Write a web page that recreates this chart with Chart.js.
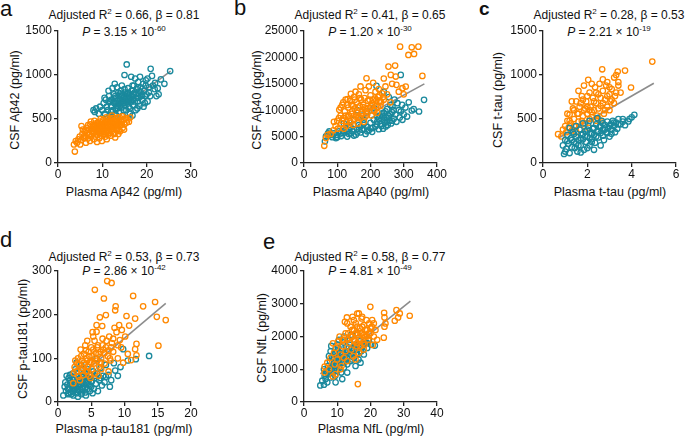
<!DOCTYPE html>
<html>
<head>
<meta charset="utf-8">
<script src="https://cdn.jsdelivr.net/npm/chart.js@4.4.0/dist/chart.umd.min.js"></script>
<style>
body{margin:0;background:#fff;width:685px;height:436px;position:relative;overflow:hidden;font-family:"Liberation Sans",Arial,Helvetica,sans-serif;color:#111;}
.t{position:absolute;white-space:nowrap;font-size:12px;line-height:1;transform:translate(-50%,-50%);}
.ax{font-size:12.5px;}
.yt{transform:translate(-50%,-50%) rotate(-90deg);}
.lt{position:absolute;font-size:22px;line-height:1;}
sup{font-size:8px;vertical-align:0;position:relative;top:-5px;}
canvas{position:absolute;}
</style>
</head>
<body>
<div class="lt" style="left:0px;top:-2px">a</div>
<div class="lt" style="left:234px;top:-3px">b</div>
<div class="lt" style="left:479px;top:-1px;font-weight:bold;font-size:19px">c</div>
<div class="lt" style="left:0px;top:229px">d</div>
<div class="lt" style="left:263px;top:231px">e</div>

<div class="t" style="left:124px;top:15px">Adjusted R<sup>2</sup> = 0.66, β = 0.81</div>
<div class="t" style="left:124px;top:32px"><i>P</i> = 3.15 × 10<sup>-60</sup></div>
<div class="t" style="left:370px;top:15px">Adjusted R<sup>2</sup> = 0.41, β = 0.65</div>
<div class="t" style="left:370px;top:32px"><i>P</i> = 1.20 × 10<sup>-30</sup></div>
<div class="t" style="left:609px;top:15px">Adjusted R<sup>2</sup> = 0.28, β = 0.53</div>
<div class="t" style="left:609px;top:32px"><i>P</i> = 2.21 × 10<sup>-19</sup></div>
<div class="t" style="left:124px;top:257px">Adjusted R<sup>2</sup> = 0.53, β = 0.73</div>
<div class="t" style="left:124px;top:271px"><i>P</i> = 2.86 × 10<sup>-42</sup></div>
<div class="t" style="left:370px;top:257px">Adjusted R<sup>2</sup> = 0.58, β = 0.77</div>
<div class="t" style="left:370px;top:271px"><i>P</i> = 4.81 × 10<sup>-49</sup></div>

<div class="t ax" style="left:124px;top:192px">Plasma Aβ42 (pg/ml)</div>
<div class="t ax" style="left:371px;top:192px">Plasma Aβ40 (pg/ml)</div>
<div class="t ax" style="left:610px;top:192px">Plasma t-tau (pg/ml)</div>
<div class="t ax" style="left:124px;top:429px">Plasma p-tau181 (pg/ml)</div>
<div class="t ax" style="left:371px;top:429px">Plasma NfL (pg/ml)</div>
<div class="t ax yt" style="left:15px;top:100px">CSF Aβ42 (pg/ml)</div>
<div class="t ax yt" style="left:257px;top:100px">CSF Aβ40 (pg/ml)</div>
<div class="t ax yt" style="left:498px;top:100px">CSF t-tau (pg/ml)</div>
<div class="t ax yt" style="left:23px;top:339px">CSF p-tau181 (pg/ml)</div>
<div class="t ax yt" style="left:262px;top:338px">CSF NfL (pg/ml)</div>

<script>
const FONT = '"Liberation Sans", Arial, Helvetica, sans-serif';
const TEAL = '#1a899d';
const ORANGE = '#ff8800';
const FITCOL = '#8c8c8c';

// ---- panel a : Abeta42 ----
const aXTicks = [0, 10, 20, 30];
const aYTicks = [0, 500, 1000, 1500];
const aTeal = [[8.0,600],[8.3,580],[8.6,620],[9.2,560],[9.5,640],[10.0,600],[10.3,680],[10.6,560],[10.8,720],[11.0,640],[11.2,600],[11.5,760],[11.6,690],[11.8,540],[12.0,650],[12.1,720],[12.3,850],[12.4,600],[12.6,780],[12.7,680],[12.9,560],[13.0,740],[13.1,620],[13.3,860],[13.4,700],[13.5,650],[13.6,800],[13.7,760],[13.8,580],[14.0,720],[14.1,680],[14.2,820],[14.3,630],[14.5,770],[14.6,540],[14.7,700],[14.8,750],[15.0,1000],[15.0,660],[15.1,800],[15.2,720],[15.4,600],[15.5,1120],[15.5,780],[15.6,690],[15.8,850],[15.9,740],[16.0,640],[16.1,790],[16.2,560],[16.4,700],[16.5,980],[16.6,820],[16.7,760],[16.9,660],[17.0,720],[17.1,880],[17.3,800],[17.4,960],[17.5,600],[17.6,740],[17.8,840],[18.0,700],[18.1,920],[18.2,780],[18.4,650],[18.6,860],[18.8,760],[19.0,720],[19.2,900],[19.4,820],[19.6,680],[19.8,880],[20.0,780],[20.2,960],[20.2,700],[20.5,860],[20.9,1070],[21.2,990],[21.4,880],[21.9,910],[22.2,760],[22.7,780],[23.2,950],[24.0,900],[25.3,1045],[16.8,540],[17.9,620],[19.3,640],[13.2,540],[11.4,820],[10.5,740],[12.8,900],[14.4,880],[18.5,980],
    [12.5,700],[12.9,760],[13.2,680],[13.6,720],[13.9,640],[14.2,760],[14.4,700],[14.8,680],[15.2,760],[15.5,700],[15.8,800],[16.0,720],[16.3,760],[16.6,700],[17.0,780],[17.3,700],[17.7,790],[18.2,740],[18.6,810],[19.0,780],[19.6,760],[20.5,800],[13.4,620],[14.8,600],[16.2,620],[12.0,580],[15.0,840],[16.8,880],[14.0,790],[11.8,700],[18.0,860],[19.8,940],[21.8,840],[22.5,850],[20.8,760]];
const aOrange = [[3.8,130],[3.6,210],[4.0,250],[4.3,230],[4.6,270],[4.9,300],[5.2,260],[5.3,420],[5.5,330],[5.8,290],[6.0,360],[6.2,310],[6.5,400],[6.6,340],[6.8,280],[7.0,380],[7.1,330],[7.3,440],[7.5,300],[7.6,360],[7.8,410],[8.0,340],[8.1,270],[8.3,390],[8.4,300],[8.6,450],[8.7,360],[8.9,320],[9.0,420],[9.1,380],[9.3,280],[9.4,470],[9.5,340],[9.7,400],[9.8,310],[10.0,440],[10.0,360],[10.2,490],[10.3,390],[10.4,330],[10.6,420],[10.7,300],[10.8,460],[11.0,370],[11.1,400],[11.2,500],[11.4,340],[11.5,440],[11.6,390],[11.8,470],[11.9,310],[12.0,420],[12.1,360],[12.3,510],[12.4,450],[12.5,390],[12.7,480],[12.8,340],[13.0,430],[13.1,500],[13.3,400],[13.5,460],[13.7,370],[13.9,520],[14.0,430],[14.2,480],[14.4,465],[14.6,400],[14.8,500],[15.0,440],[15.3,510],[15.7,495],[16.0,470],[12.9,290],[11.0,270],[9.9,250],[8.8,240],[7.2,250],[6.3,230],[5.0,210],[13.6,330],[14.9,380],[10.9,520],[9.6,500],[12.2,540],[8.2,480],[7.9,430],
    [7.4,470],[7.7,390],[8.2,430],[8.5,350],[8.8,410],[9.0,460],[9.2,360],[9.4,430],[9.6,380],[9.9,420],[10.1,470],[10.2,350],[10.5,450],[10.5,380],[10.9,410],[11.1,480],[11.3,430],[11.5,360],[11.7,410],[11.9,500],[12.2,470],[12.4,410],[12.6,440],[12.9,460],[13.2,470],[13.4,440],[13.8,480],[10.8,350],[9.3,390],[8.6,380],[6.8,430],[6.4,370],[7.0,320],[6.0,280],[5.6,380],[11.3,320],[12.6,330],[13.3,370],[14.3,440],[10.0,400],[9.0,350],[11.6,450],[12.0,380],[13.5,520],[14.5,530],[15.5,460],[16.3,520],[14.0,360]];
const aFit = [[3.8,240],[25.4,1045]];

// ---- panel b : Abeta40 ----
const bXTicks = [0, 100, 200, 300, 400];
const bYTicks = [0, 5000, 10000, 15000, 20000, 25000];
const bTeal = [[63,4100],[66,5030],[72,5600],[76,5975],[85,4900],[96,4715],[100,5300],[105,6000],[112,5100],[118,5700],[125,6300],[130,5000],[135,5500],[140,6800],[145,6000],[150,5200],[156,5345],[160,6500],[165,7200],[170,5800],[175,6300],[180,7500],[185,5500],[190,6800],[195,6200],[200,7600],[205,5900],[206,6605],[210,8200],[215,6900],[220,7300],[225,6400],[228,9000],[230,8000],[233,7000],[236,8810],[238,6500],[240,9500],[243,7600],[246,6920],[248,8600],[250,10200],[252,7200],[255,9000],[258,8000],[260,11000],[262,7500],[265,9600],[266,10700],[270,8400],[272,12000],[275,9200],[278,7800],[281,11330],[285,10000],[288,8600],[291,16685],[291,9755],[295,11000],[296,8180],[300,9200],[305,10500],[310,8800],[315,11500],[324,9940],[330,10200],[346,9755],[361,11960],[175,9000],[150,8200],[190,9800],[210,10500],[120,7500],[240,13500],[255,12500],[218,14600],[160,10000],[180,8200],[135,7200],[220,8800],
    [220,7800],[225,8400],[230,7400],[235,9400],[240,8200],[245,9800],[250,7800],[255,8500],[260,9200],[265,8000],[270,10000],[200,6600],[190,6000],[180,6400],[170,6900],[160,5800],[150,6400],[140,5600],[130,6000],[120,6000],[110,5600],[90,5600],[80,5300],[100,4900]];
const bOrange = [[61,3260],[66,4715],[71,5345],[80,5500],[88,6200],[95,7000],[100,8000],[102,6500],[106,10070],[110,9000],[112,7500],[115,11000],[118,8500],[120,6500],[123,9800],[125,12000],[128,7800],[131,12090],[133,10500],[135,9000],[138,8000],[141,13094],[143,11000],[145,9800],[148,7200],[150,12500],[152,10300],[155,8800],[158,11500],[160,9500],[162,7500],[165,13000],[168,10800],[170,8500],[172,12000],[175,9800],[178,11000],[180,7800],[183,10300],[185,13800],[188,16055],[190,9200],[192,11800],[195,14500],[198,10500],[200,12800],[203,9000],[205,11300],[208,15200],[210,10000],[213,12200],[215,13500],[218,11000],[220,9500],[223,12500],[225,14000],[228,11800],[230,10800],[235,13200],[240,12000],[245,14500],[250,13000],[254,18260],[261,16685],[265,15000],[274,18450],[276,16370],[278,14800],[285,13500],[289,22040],[296,14165],[306,14480],[314,20465],[324,21910],[331,20650],[344,22040],[356,16500],[300,13000],[260,11500],[130,11000],[155,13500],[170,14500],[90,7800],[240,16000],
    [110,10500],[118,11500],[125,9000],[132,8800],[138,11800],[142,9300],[148,10800],[153,12000],[158,9000],[163,10500],[167,12300],[172,9300],[177,10600],[182,12300],[187,9800],[192,10400],[197,12000],[202,10800],[207,12000],[212,9800],[217,11800],[222,10600],[227,12800],[232,11500],[238,12500],[105,8500],[115,8000],[127,7000],[140,7600],[150,8400],[165,8800],[185,8800]];
const bFit = [[62,4700],[362,14985]];

// ---- panel c : t-tau ----
const cXTicks = [0, 2, 4, 6];
const cYTicks = [0, 500, 1000, 1500];
const cTeal = [[0.9,200],[0.95,102],[1.0,260],[1.05,160],[1.1,320],[1.15,220],[1.2,113],[1.25,280],[1.3,180],[1.35,350],[1.4,240],[1.43,170],[1.5,300],[1.55,130],[1.6,260],[1.65,380],[1.7,200],[1.75,320],[1.8,270],[1.85,150],[1.9,360],[1.95,240],[2.0,300],[2.05,420],[2.1,200],[2.15,340],[2.2,270],[2.25,390],[2.3,320],[2.35,230],[2.4,440],[2.45,360],[2.5,290],[2.55,410],[2.6,340],[2.65,480],[2.7,380],[2.75,260],[2.8,430],[2.85,350],[2.9,470],[2.95,400],[3.0,300],[3.05,440],[3.09,332],[3.15,480],[3.2,420],[3.3,460],[3.35,390],[3.4,500],[3.5,440],[3.6,470],[3.7,430],[3.85,472],[3.9,500],[4.12,548],[1.2,400],[1.5,420],[1.8,450],[2.0,170],[2.3,150],[2.6,200],[1.0,130],[2.1,480],[2.45,510],[1.7,120],[3.25,350],
    [1.3,260],[1.4,330],[1.6,200],[1.7,280],[1.9,300],[2.0,380],[2.1,280],[2.2,330],[2.3,400],[2.4,300],[2.5,360],[2.6,420],[2.7,310],[2.8,380],[2.9,340],[3.0,420],[3.1,380],[3.2,460],[3.4,440],[1.1,250],[1.5,220],[1.8,330],[2.2,240],[2.7,450],[3.6,500],[4.0,520]];
const cOrange = [[0.68,328],[0.83,302],[0.9,380],[1.0,420],[1.05,350],[1.1,480],[1.15,400],[1.2,550],[1.25,450],[1.3,370],[1.35,620],[1.4,500],[1.45,420],[1.5,700],[1.55,560],[1.6,470],[1.65,640],[1.7,380],[1.75,760],[1.8,530],[1.85,600],[1.9,450],[1.95,700],[2.0,560],[2.04,945],[2.05,400],[2.1,800],[2.15,640],[2.2,520],[2.25,740],[2.3,600],[2.35,860],[2.4,680],[2.45,540],[2.5,780],[2.55,900],[2.6,650],[2.67,1065],[2.7,820],[2.75,560],[2.8,720],[2.85,880],[2.9,640],[3.0,780],[3.05,700],[3.1,840],[3.21,971],[3.25,760],[3.37,1039],[3.4,880],[3.5,800],[3.7,1050],[3.97,858],[4.93,1152],[1.6,820],[1.85,880],[2.2,900],[1.3,700],[2.4,480],[2.0,640],[1.5,350],[2.6,480],[1.1,560],[3.2,680],[2.9,920],[1.75,480],
    [1.2,480],[1.4,600],[1.6,560],[1.7,680],[1.9,620],[2.0,760],[2.1,600],[2.3,700],[2.4,800],[2.5,620],[2.6,740],[2.7,680],[2.8,600],[2.9,760],[3.0,860],[3.1,720],[3.3,800],[3.4,920],[1.8,720],[2.2,580],[1.4,420],[2.5,500],[2.1,500],[3.0,600],[2.7,950],[3.3,1000]];
const cFit = [[0.7,284],[5.0,907]];

// ---- panel d : p-tau181 ----
const dXTicks = [0, 5, 10, 15, 20];
const dYTicks = [0, 100, 200, 300];
const dTeal = [[0.8,15],[1.2,25],[1.4,40],[1.5,18],[1.6,55],[1.7,30],[1.8,62],[1.9,22],[2.0,45],[2.1,35],[2.2,65],[2.3,15],[2.4,50],[2.5,28],[2.6,40],[2.7,60],[2.8,20],[2.9,48],[3.0,35],[3.1,70],[3.2,25],[3.3,55],[3.4,42],[3.5,18],[3.6,62],[3.7,30],[3.8,50],[3.9,38],[4.0,68],[4.1,22],[4.2,45],[4.3,58],[4.4,30],[4.5,75],[4.6,40],[4.7,52],[4.8,25],[4.9,62],[5.0,35],[5.1,48],[5.3,70],[5.4,30],[5.5,55],[5.7,42],[5.9,65],[6.0,25],[6.2,50],[6.4,78],[6.6,38],[6.8,60],[7.0,45],[7.2,85],[7.6,62],[8.0,50],[8.4,89],[8.6,72],[9.0,60],[9.4,80],[9.8,121],[10.5,95],[11.7,98],[13.7,105.5],[2.6,75],[3.5,85],[1.3,60],[2.0,18],[3.0,12],[4.2,15],[5.2,20],[6.5,90],[7.8,35],[1.0,35],[2.8,90],[5.8,100],
    [1.1,45],[1.6,20],[1.9,40],[2.2,25],[2.5,55],[2.7,35],[3.0,50],[3.2,40],[3.4,28],[3.7,45],[4.0,32],[4.3,42],[4.6,55],[5.0,45],[1.5,30],[2.4,32],[3.6,22],[4.8,38],[5.6,60],[6.4,55],[7.2,58],[3.9,58],[2.9,28],[1.8,48]];
const dOrange = [[2.3,43],[2.37,66],[2.5,80],[2.6,95],[2.8,70],[3.0,100],[3.1,58],[3.2,85],[3.4,120],[3.5,72],[3.6,95],[3.8,62],[3.9,110],[4.0,85],[4.1,130],[4.2,70],[4.3,100],[4.5,80],[4.6,115],[4.7,60],[4.8,92],[5.0,125],[5.1,75],[5.2,105],[5.4,88],[5.5,140],[5.54,257],[5.6,65],[5.7,112],[5.8,176],[5.8,161],[5.9,95],[6.0,130],[6.2,80],[6.3,194],[6.4,115],[6.5,100],[6.65,174],[6.7,145],[6.9,237],[7.0,88],[7.2,199],[7.2,125],[7.4,277],[7.5,105],[7.7,150],[7.9,95],[8.06,272.6],[8.1,135],[8.3,115],[8.6,210],[8.67,219],[8.8,160],[9.0,100],[9.2,176],[9.3,142],[9.5,125],[9.8,90],[10.1,150],[10.3,197],[10.5,110],[11.0,96],[11.3,243],[11.6,191],[11.6,121],[11.8,133],[11.8,107],[12.8,219],[14.6,229],[14.86,195],[15.1,129],[16.2,187.6],[3.3,50],[4.4,140],[6.1,60],[7.6,70],[8.5,170],[5.3,150],[9.6,165],[10.7,175],[4.9,55],[6.8,120],
    [3.5,105],[3.9,90],[4.2,118],[4.4,95],[4.7,105],[5.0,90],[5.3,120],[5.6,100],[5.9,125],[6.1,110],[6.4,90],[6.7,130],[7.0,112],[7.3,140],[7.6,118],[8.0,125],[8.3,145],[4.5,70],[3.7,78],[6.5,75],[7.8,100],[2.9,88],[9.0,130],[5.2,160]];
const dFit = [[0.8,28],[16.2,226]];

// ---- panel e : NfL ----
const eXTicks = [0, 10, 20, 30, 40];
const eYTicks = [0, 1000, 2000, 3000, 4000];
const eTeal = [[4.9,506],[5.5,650],[6.0,527],[6.2,800],[6.5,700],[6.8,950],[7.0,600],[7.2,1100],[7.5,850],[7.8,1250],[8.0,750],[8.2,1711],[8.3,1000],[8.5,1350],[8.8,900],[9.0,1200],[9.2,1500],[9.4,800],[9.6,1100],[9.8,1400],[10.0,950],[10.2,1650],[10.4,1250],[10.6,1050],[10.8,1500],[11.0,1350],[11.2,900],[11.5,1600],[11.7,1200],[11.9,1813],[12.0,1050],[12.3,1450],[12.5,1300],[12.8,1700],[13.0,1150],[13.3,1550],[13.5,1400],[13.8,1900],[14.0,1250],[14.3,1650],[14.6,1500],[15.0,1350],[15.3,1750],[15.6,1450],[16.0,1600],[16.4,1300],[16.8,1850],[17.2,1550],[17.6,1700],[18.0,1450],[18.5,1800],[19.0,1650],[19.5,1900],[20.2,1750],[21.3,1722],[14.2,2050],[12.0,2000],[10.5,1900],[7.5,1400],[6.0,1000],[9.5,600],[11.5,700],[13.0,900],[15.5,1100],[17.0,1200],[8.0,1550],[10.0,1750],[16.0,2100],
    [8.5,1100],[9.0,1300],[9.5,1500],[10.0,1150],[10.5,1400],[11.0,1250],[11.5,1450],[12.0,1200],[12.5,1550],[13.0,1350],[13.5,1650],[14.0,1450],[14.5,1300],[15.0,1600],[15.5,1700],[16.0,1450],[17.0,1650],[18.0,1750],[19.0,1800],[7.0,900],[8.0,1050],[9.0,1000],[6.5,850],[10.0,1550]];
const eOrange = [[6.2,1084],[6.2,901],[7.0,1200],[7.5,1000],[8.0,1350],[8.7,780],[8.7,1792],[9.0,1500],[9.3,1150],[9.6,1650],[10.0,1300],[10.3,1850],[10.7,1995],[11.0,1450],[11.3,1100],[11.6,1700],[12.0,1900],[12.3,2450],[12.5,1550],[12.9,2582],[13.0,1250],[13.3,2100],[13.6,1800],[14.0,2300],[14.2,1600],[14.5,2000],[14.8,1400],[15.0,2200],[15.3,1850],[15.6,2400],[15.9,1700],[16.2,547],[16.2,2050],[16.5,2704],[16.5,1500],[16.8,2250],[17.0,1900],[17.3,2550],[17.5,2100],[17.8,1800],[18.0,2350],[18.2,1742],[18.5,2000],[18.8,2500],[19.0,2200],[19.3,1900],[19.6,2400],[19.95,2906],[20.0,2100],[20.4,2300],[20.7,1742],[21.0,2000],[21.5,2200],[22.0,1900],[24.0,1965],[24.1,2724],[24.2,2582],[24.2,2299],[24.5,2400],[27.3,2481],[27.8,2805],[28.3,2582],[28.8,2704],[31.8,2633],[13.0,2400],[14.6,2600],[16.0,2700],[11.0,1000],[9.5,850],[15.5,1300],[18.0,1600],[12.0,1350],
    [14.0,2000],[14.5,2200],[15.0,1900],[15.5,2100],[16.0,2300],[16.5,1900],[17.0,2100],[17.5,2300],[18.0,2050],[18.5,2200],[19.0,2000],[19.5,2100],[20.0,2250],[16.0,1800],[17.0,1700],[13.0,1900],[12.5,2100],[11.5,1900],[20.5,2500],[21.0,2400],[15.0,2500],[17.5,2600]];
const eFit = [[4.9,860],[32,3080]];

function pts(list) {
    return list.map(p => ({x: p[0], y: p[1]}));
}

function scatterSet(list, color) {
    return {
        data: pts(list),
        borderColor: color,
        backgroundColor: 'rgba(0,0,0,0)',
        borderWidth: 1.3,
        pointRadius: 2.7,
        showLine: false
    };
}

function axis(ticks, pos, fitFn) {
    return {
        type: 'linear',
        position: pos,
        min: ticks[0],
        max: ticks[ticks.length - 1],
        ticks: {
            stepSize: ticks[1] - ticks[0],
            callback: v => String(v),
            color: '#111',
            font: {family: FONT, size: 12},
            padding: pos === 'left' ? 2 : 0,
            maxRotation: 0,
            autoSkip: false
        },
        grid: {drawOnChartArea: false, drawTicks: true, tickLength: 4, color: '#222', lineWidth: 1.3},
        border: {display: true, color: '#222', width: 1.3},
        afterFit: fitFn
    };
}

// box = [left, top, right, bottom] of the plot area in page pixels
function makePanel(box, xTicks, yTicks, first, second, fit) {
    const padL = 60, padT = 12, padR = 16, padB = 22;
    const cv = document.createElement('canvas');
    cv.width = box[2] - box[0] + padL + padR;
    cv.height = box[3] - box[1] + padT + padB;
    cv.style.left = (box[0] - padL) + 'px';
    cv.style.top = (box[1] - padT) + 'px';
    document.body.appendChild(cv);

    new Chart(cv.getContext('2d'), {
        type: 'scatter',
        data: {
            datasets: [
                first,
                second,
                {
                    data: pts(fit),
                    showLine: true,
                    borderColor: FITCOL,
                    borderWidth: 1.6,
                    pointRadius: 0
                }
            ]
        },
        options: {
            responsive: false,
            animation: false,
            layout: {padding: {left: 0, top: padT, right: padR, bottom: 0}},
            plugins: {legend: {display: false}, tooltip: {enabled: false}},
            scales: {
                x: axis(xTicks, 'bottom', s => { s.height = padB; }),
                y: axis(yTicks, 'left', s => { s.width = padL; })
            }
        }
    });
}

makePanel([58, 31, 191, 163], aXTicks, aYTicks, scatterSet(aOrange, ORANGE), scatterSet(aTeal, TEAL), aFit);
makePanel([304, 31, 437, 163], bXTicks, bYTicks, scatterSet(bOrange, ORANGE), scatterSet(bTeal, TEAL), bFit);
makePanel([543, 31, 676, 163], cXTicks, cYTicks, scatterSet(cTeal, TEAL), scatterSet(cOrange, ORANGE), cFit);
makePanel([58, 271, 191, 402], dXTicks, dYTicks, scatterSet(dOrange, ORANGE), scatterSet(dTeal, TEAL), dFit);
makePanel([304, 271, 437, 402], eXTicks, eYTicks, scatterSet(eOrange, ORANGE), scatterSet(eTeal, TEAL), eFit);
</script>
</body>
</html>
